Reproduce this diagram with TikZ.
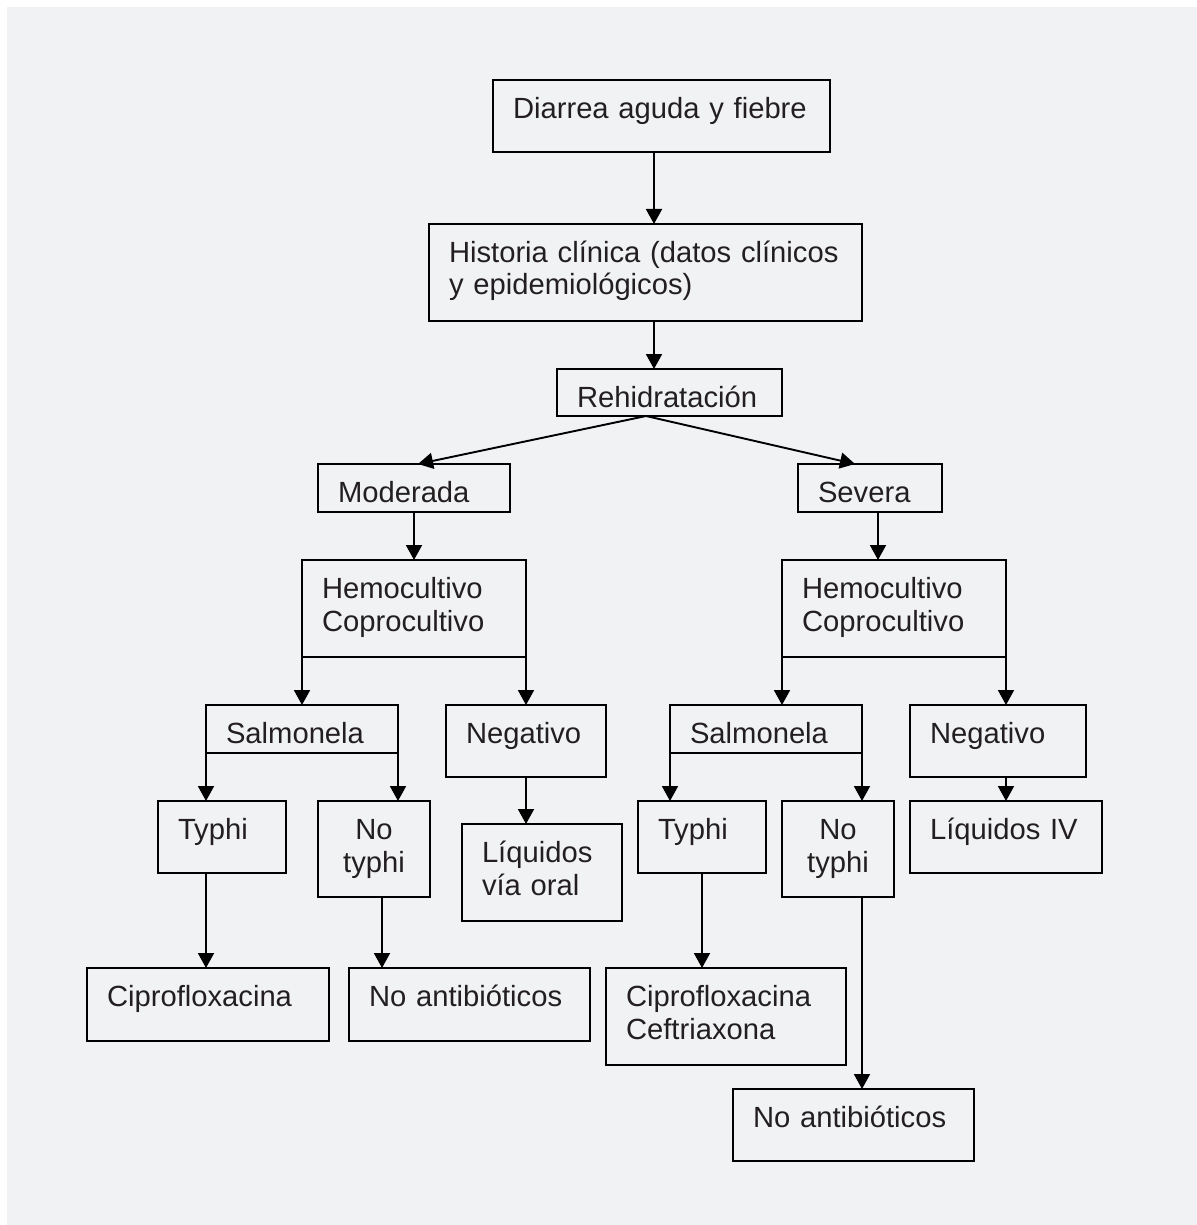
\documentclass[tikz,border=0pt]{standalone}
\usepackage{fontspec}
\setmainfont{Liberation Sans}
\usetikzlibrary{arrows.meta}
\definecolor{bggray}{HTML}{F1F2F4}
\definecolor{txtcol}{HTML}{231F20}
\tikzset{
  box/.style={draw=black, line width=1pt, text=txtcol, inner xsep=10pt, inner ysep=0pt, outer sep=0pt,
    font=\fontsize{14.6pt}{16.25pt}\selectfont, text height=19.25pt, anchor=north west},
  conn/.style={draw=black, line width=0.95pt, -{Triangle[length=7.5pt,width=8pt]}},
  plain/.style={draw=black, line width=0.95pt}
}
% \mybox{name}{x1}{y1}{x2}{y2}{align}{text}   (pixel coordinates, y down)
\newcommand\mybox[7]{%
  \pgfmathsetmacro\mybw{(#4-#2-40)*0.5}%
  \pgfmathsetmacro\mybd{(#5-#3-38.5)*0.5}%
  \node[box, text width=\mybw pt, text depth=\mybd pt, align=#6] (#1) at (#2,#3) {#7};%
}
\begin{document}
\begin{tikzpicture}[x=0.5pt,y=-0.5pt]
\useasboundingbox (0,0) rectangle (1197,1225);
\fill[bggray] (7,7) rectangle (1197,1225);

\mybox{b1}{493}{80}{830}{152}{left}{Diarrea aguda y fiebre}
\mybox{b2}{429}{224}{862}{321}{left}{Historia clínica (datos clínicos\\y epidemiológicos)}
\mybox{b3}{557}{369}{782}{416}{left}{Rehidratación}
\mybox{mod}{318}{464}{510}{512}{left}{Moderada}
\mybox{sev}{798}{464}{942}{512}{left}{Severa}
\mybox{hemL}{302}{560}{526}{657}{left}{Hemocultivo\\Coprocultivo}
\mybox{hemR}{782}{560}{1006}{657}{left}{Hemocultivo\\Coprocultivo}
\mybox{salL}{206}{705}{398}{753}{left}{Salmonela}
\mybox{negL}{446}{705}{606}{777}{left}{Negativo}
\mybox{salR}{670}{705}{862}{753}{left}{Salmonela}
\mybox{negR}{910}{705}{1086}{777}{left}{Negativo}
\mybox{typL}{158}{801}{286}{873}{left}{Typhi}
\mybox{ntyL}{318}{801}{430}{897}{center}{No\\typhi}
\mybox{liqL}{462}{824}{622}{921}{left}{Líquidos\\vía oral}
\mybox{typR}{638}{801}{766}{873}{left}{Typhi}
\mybox{ntyR}{782}{801}{894}{897}{center}{No\\typhi}
\mybox{liqIV}{910}{801}{1102}{873}{left}{Líquidos IV}
\mybox{cipL}{87}{968}{329}{1041}{left}{Ciprofloxacina}
\mybox{noaL}{349}{968}{590}{1041}{left}{No antibióticos}
\mybox{cipR}{606}{968}{846}{1065}{left}{Ciprofloxacina\\Ceftriaxona}
\mybox{noaR}{733}{1089}{974}{1161}{left}{No antibióticos}

% helper columns
\coordinate (c654) at (654,0);
\coordinate (c646) at (646,0);
\coordinate (c418) at (418,0);
\coordinate (c855) at (855,0);
\coordinate (c878) at (878,0);
\coordinate (c206) at (206,0);
\coordinate (c382) at (382,0);
\coordinate (c862) at (862,0);
\coordinate (c1006) at (1006,0);

\draw[conn] (b1.south -| c654) -- (b2.north -| c654);
\draw[conn] (b2.south -| c654) -- (b3.north -| c654);
\draw[conn] (b3.south -| c646) -- (mod.north -| c418);
\draw[conn] (b3.south -| c646) -- (sev.north -| c855);
\draw[conn] (mod.south) -- (hemL.north -| mod.south);
\draw[conn] (sev.south -| c878) -- (hemR.north -| c878);

\draw[conn] (hemL.south west) -- (hemL.south west |- salL.north);
\draw[conn] (hemL.south east) -- (hemL.south east |- negL.north);
\draw[conn] (hemR.south west) -- (hemR.south west |- salR.north);
\draw[conn] (hemR.south east) -- (hemR.south east |- negR.north);

\draw[conn] (salL.south west) -- (salL.south west |- typL.north);
\draw[conn] (salL.south east) -- (salL.south east |- ntyL.north);
\draw[conn] (salR.south west) -- (salR.south west |- typR.north);
\draw[conn] (salR.south east) -- (salR.south east |- ntyR.north);

\draw[conn] (negL.south) -- (liqL.north -| negL.south);
\draw[conn] (negR.south -| c1006) -- (liqIV.north -| c1006);

\draw[conn] (typL.south -| c206) -- (cipL.north -| c206);
\draw[conn] (ntyL.south -| c382) -- (noaL.north -| c382);
\draw[conn] (typR.south) -- (cipR.north -| typR.south);
\draw[conn] (ntyR.south -| c862) -- (noaR.north -| c862);
\end{tikzpicture}
\end{document}
